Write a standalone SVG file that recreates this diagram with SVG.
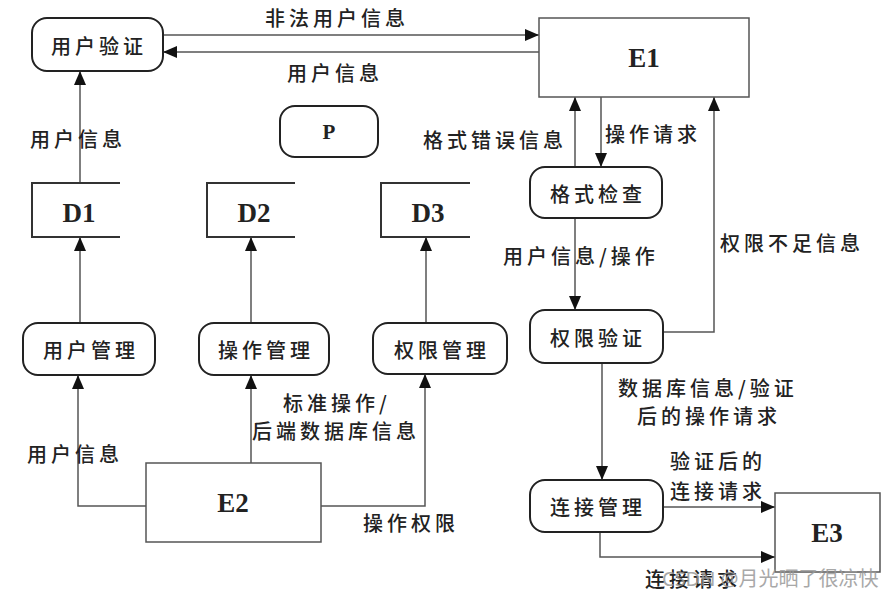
<svg xmlns="http://www.w3.org/2000/svg" width="889" height="596" viewBox="0 0 889 596">
<defs>
<marker id="arr" markerUnits="userSpaceOnUse" markerWidth="14" markerHeight="12" refX="14" refY="6" orient="auto">
<path d="M0,0 L14,6 L0,12 z" fill="#111"/>
</marker>
<style>
.proc{fill:#fff;stroke:#222;stroke-width:2}
.ent{fill:#fff;stroke:#555;stroke-width:1.5}
.store{fill:none;stroke:#333;stroke-width:2}
.cn{fill:none;stroke:#555;stroke-width:1.5;marker-end:url(#arr)}
.t{font-family:"Noto Sans CJK SC","Noto Sans",sans-serif;font-size:20px;font-weight:500;letter-spacing:4px;fill:#222;dominant-baseline:central}
.lat{font-family:"Liberation Serif",serif;font-size:27px;font-weight:bold;fill:#222;text-anchor:middle;dominant-baseline:central}
.wm{font-family:"Noto Sans","Noto Sans CJK SC",sans-serif;font-size:20px;fill:#999;opacity:0.85;dominant-baseline:central}
</style>
</defs>
<rect width="889" height="596" fill="#fff"/>

<g id="connectors">
<line class="cn" x1="163" y1="35" x2="539" y2="35"/>
<line class="cn" x1="539" y1="52" x2="163" y2="52"/>
<line class="cn" x1="80" y1="183" x2="80" y2="71"/>
<line class="cn" x1="80" y1="323" x2="80" y2="237"/>
<line class="cn" x1="251" y1="323" x2="251" y2="237"/>
<line class="cn" x1="426" y1="323" x2="426" y2="237"/>
<polyline class="cn" points="146,506 78,506 78,375"/>
<line class="cn" x1="251" y1="463" x2="251" y2="375"/>
<polyline class="cn" points="321,506 425,506 425,374"/>
<line class="cn" x1="575" y1="167" x2="575" y2="97"/>
<line class="cn" x1="601" y1="97" x2="601" y2="167"/>
<line class="cn" x1="575" y1="218" x2="575" y2="310"/>
<polyline class="cn" points="663,332 714,332 714,97"/>
<line class="cn" x1="602" y1="363" x2="602" y2="480"/>
<line class="cn" x1="663" y1="507" x2="775" y2="507"/>
<polyline class="cn" points="600,532 600,557 775,557"/>
</g>

<g id="labels">
<text class="t" x="265" y="17">非法用户信息</text>
<text class="t" x="287" y="72">用户信息</text>
<text class="t" x="30" y="138">用户信息</text>
<text class="t" x="423" y="139">格式错误信息</text>
<text class="t" x="605" y="133">操作请求</text>
<text class="t" x="503" y="255">用户信息/操作</text>
<text class="t" x="720" y="242">权限不足信息</text>
<text class="t" x="618" y="387">数据库信息/验证</text>
<text class="t" x="637" y="415">后的操作请求</text>
<text class="t" x="670" y="460">验证后的</text>
<text class="t" x="670" y="490">连接请求</text>
<text class="t" x="645" y="578">连接请求</text>
<text class="t" x="283" y="402">标准操作/</text>
<text class="t" x="252" y="430">后端数据库信息</text>
<text class="t" x="27" y="453">用户信息</text>
<text class="t" x="363" y="522">操作权限</text>
</g>

<g id="n-yonghuyanzheng"><rect class="proc" x="32" y="18" width="131" height="53" rx="15"/><text class="t" x="51" y="45">用户验证</text></g>
<g id="n-P"><rect class="proc" x="280" y="106" width="98" height="51" rx="15"/><text class="lat" x="329" y="132" style="font-size:21px">P</text></g>
<g id="n-E1"><rect class="ent" x="539" y="18" width="210" height="79"/><text class="lat" x="644" y="58">E1</text></g>
<g id="n-D1"><path class="store" d="M120,183 H32 V237 H120"/><text class="lat" x="79" y="213">D1</text></g>
<g id="n-D2"><path class="store" d="M295,183 H207 V237 H295"/><text class="lat" x="254" y="213">D2</text></g>
<g id="n-D3"><path class="store" d="M470,183 H381 V237 H470"/><text class="lat" x="428" y="213">D3</text></g>
<g id="n-yonghuguanli"><rect class="proc" x="23" y="323" width="132" height="52" rx="15"/><text class="t" x="43" y="349">用户管理</text></g>
<g id="n-caozuoguanli"><rect class="proc" x="199" y="323" width="130" height="52" rx="15"/><text class="t" x="218" y="349">操作管理</text></g>
<g id="n-quanxianguanli"><rect class="proc" x="373" y="323" width="134" height="51" rx="15"/><text class="t" x="394" y="349">权限管理</text></g>
<g id="n-E2"><rect class="ent" x="146" y="463" width="175" height="79"/><text class="lat" x="233" y="503">E2</text></g>
<g id="n-geshijiancha"><rect class="proc" x="530" y="167" width="132" height="51" rx="15"/><text class="t" x="550" y="193">格式检查</text></g>
<g id="n-quanxianyanzheng"><rect class="proc" x="530" y="310" width="133" height="53" rx="15"/><text class="t" x="550" y="337">权限验证</text></g>
<g id="n-lianjieguanli"><rect class="proc" x="530" y="480" width="133" height="52" rx="15"/><text class="t" x="550" y="506">连接管理</text></g>
<g id="n-E3"><rect class="ent" x="775" y="493" width="105" height="79"/><text class="lat" x="827" y="533">E3</text></g>

<text class="wm" x="662" y="578">CSDN @月光晒了很凉快</text>
</svg>
